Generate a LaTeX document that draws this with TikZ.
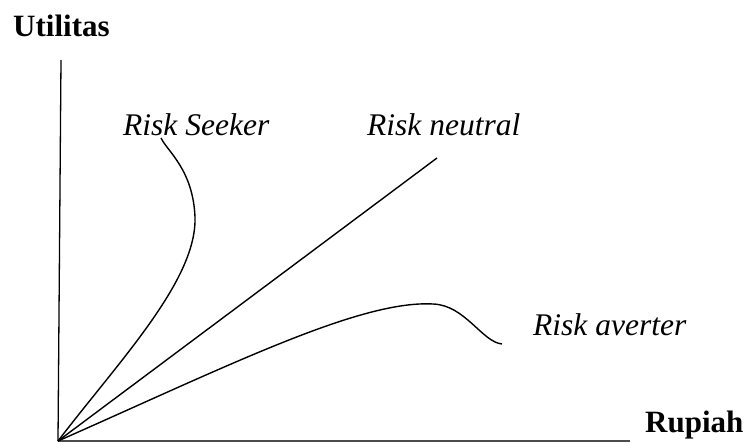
\documentclass[tikz,border=0pt]{standalone}
\usepackage{fontspec}
\setmainfont{Liberation Serif}[ItalicFont={Liberation Serif Italic},BoldFont={Liberation Serif Bold}]
\begin{document}
\begin{tikzpicture}[x=1pt,y=-1pt,
  curve/.style={line width=1.4pt,black},
  axislbl/.style={font=\fontsize{31}{36}\selectfont\bfseries,inner sep=0pt,anchor=base west},
  curvelbl/.style={font=\fontsize{31.5}{36}\selectfont\itshape,inner sep=0pt,anchor=base west}]
\useasboundingbox (0,0) rectangle (747,444);
\coordinate (O) at (58,441);
\coordinate (ytop) at (61,60);
\coordinate (xend) at (630,441);
\draw[line width=1.3pt] (O) -- (ytop);
\draw[line width=1.1pt,black!70] (O) -- (xend);
\node[axislbl] (util) at (13,37) {Utilitas};
\node[axislbl] (rup) at (645,432) {Rupiah};
\node[curvelbl] (seek) at (123,135) {Risk Seeker};
\node[curvelbl] (neut) at (367,135) {Risk neutral};
\node[curvelbl] (avert) at (533,335) {Risk averter};
\coordinate (nend) at (437,158);
\draw[curve] (O) -- (nend);
\coordinate (smid) at (195,217);
\coordinate (stop) at (161,138);
\draw[curve] (O) .. controls (120,360) and (197,280) .. (smid)
  .. controls (193,170) and (168,152) .. (stop);
\coordinate (apeak) at (433,304);
\coordinate (aend) at (502,344);
\draw[curve] (O) .. controls (230,365) and (360,300) .. (apeak)
  .. controls (465,305) and (482,342) .. (aend);
\end{tikzpicture}
\end{document}
